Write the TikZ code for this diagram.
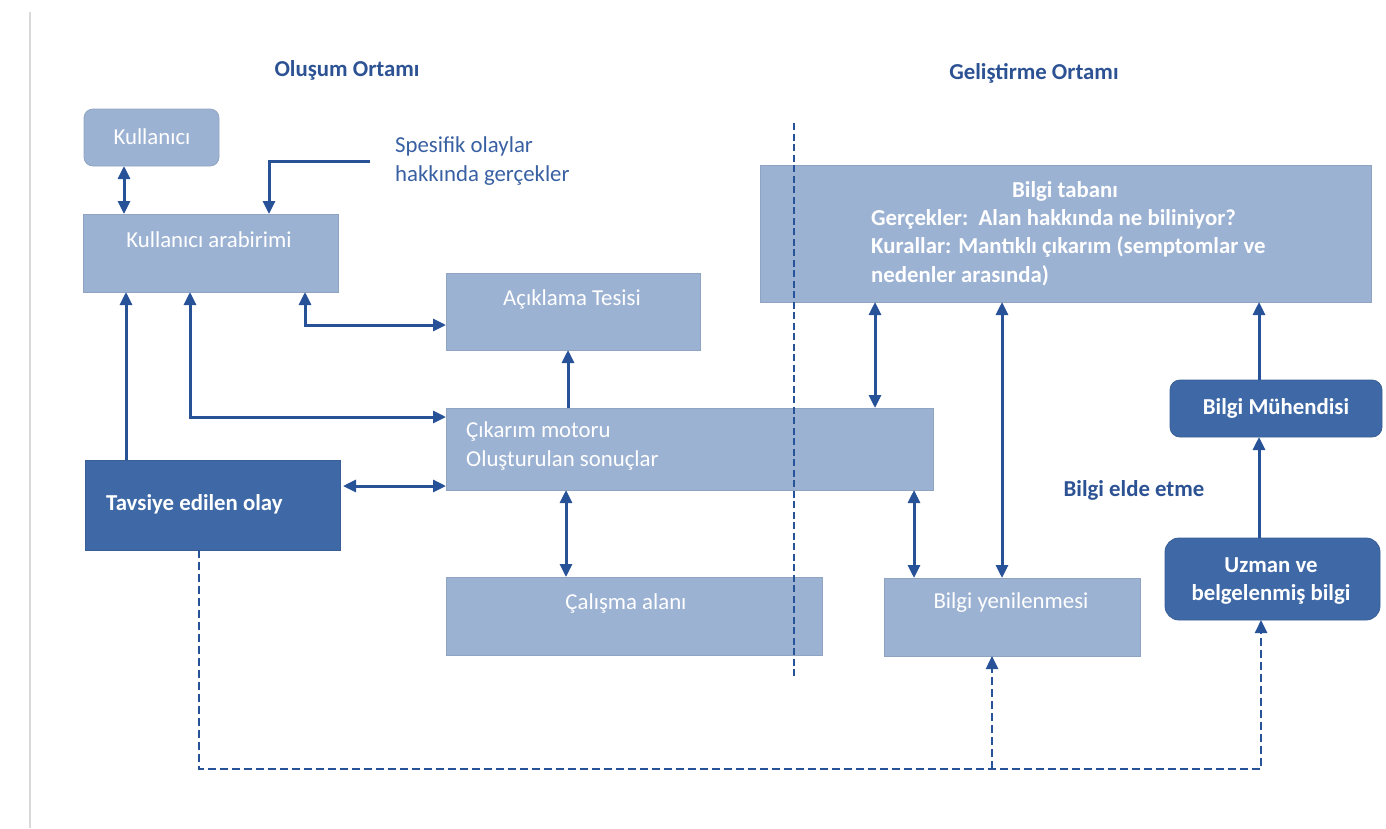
\documentclass[tikz,border=0pt]{standalone}
\usepackage{fontspec}
\setmainfont{Carlito}
\usetikzlibrary{arrows.meta}
\definecolor{boxlight}{RGB}{156,178,211}
\definecolor{boxdark}{RGB}{62,105,166}
\definecolor{arrowblue}{RGB}{40,82,152}
\definecolor{titleblue}{RGB}{44,82,148}
\definecolor{notecol}{RGB}{56,96,162}
\begin{document}
\begin{tikzpicture}[x=1pt,y=-1pt,
  font=\fontsize{22.8}{28.5}\selectfont,
  base/.style={anchor=north west,inner sep=0pt,outer sep=0pt},
  lbox/.style={base,fill=boxlight,draw=boxlight!92!black,line width=0.8pt},
  dbox/.style={base,fill=boxdark,draw=boxdark!90!black,line width=0.8pt},
  wtext/.style={text=white,inner sep=0pt},
  ttl/.style={text=titleblue,font=\fontsize{22.8}{28.5}\selectfont\bfseries,inner sep=0pt},
  conn/.style={draw=arrowblue,line width=3pt},
  tip/.style={conn,-{Triangle[length=13pt,width=12pt]}},
  both/.style={conn,{Triangle[length=13pt,width=12pt]}-{Triangle[length=13pt,width=12pt]}},
  dsh/.style={draw=arrowblue,line width=2.6pt,dash pattern=on 8pt off 4pt},
  dshtip/.style={dsh,-{Triangle[length=13pt,width=12pt]}}]

% page frame
\useasboundingbox (0,0) rectangle (1386,828);
\draw[black!15,line width=1.5pt] (30,12) -- (30,828);

% section titles
\node[ttl] (t1) at (347,70) {Oluşum Ortamı};
\node[ttl] (t2) at (1034,73) {Geliştirme Ortamı};

% boxes
\node[lbox,rounded corners=9pt,minimum width=135pt,minimum height=57pt] (kul) at (84,109) {};
\node[lbox,minimum width=255pt,minimum height=78pt] (arab) at (83,214) {};
\node[lbox,minimum width=254pt,minimum height=77pt] (acik) at (446,273) {};
\node[lbox,minimum width=487pt,minimum height=82pt] (cik) at (446,408) {};
\node[dbox,minimum width=255pt,minimum height=90pt] (tav) at (85,460) {};
\node[lbox,minimum width=376pt,minimum height=78pt] (cal) at (446,577) {};
\node[lbox,minimum width=611pt,minimum height=137pt] (bt) at (760,165) {};
\node[lbox,minimum width=256pt,minimum height=78pt] (yen) at (884,578) {};
\node[dbox,rounded corners=10pt,minimum width=212pt,minimum height=57pt] (muh) at (1170,380) {};
\node[dbox,rounded corners=14pt,minimum width=215pt,minimum height=82pt] (uzm) at (1165,538) {};

% box texts
\node[wtext] (tkul) at (152,137) {Kullanıcı};
\node[wtext] (tarab) at (209,240) {Kullanıcı arabirimi};
\node[wtext] (tacik) at (572,299) {Açıklama Tesisi};
\node[wtext,anchor=west,align=left] (tcik) at (466,446) {Çıkarım motoru\\Oluşturulan sonuçlar};
\node[wtext,anchor=west,font=\fontsize{22.8}{28.5}\selectfont\bfseries] (ttav) at (106,504) {Tavsiye edilen olay};
\node[wtext] (tcal) at (626,603) {Çalışma alanı};
\node[wtext,font=\fontsize{22.8}{28.5}\selectfont\bfseries] (tbt) at (1065,191) {Bilgi tabanı};
\node[wtext,anchor=north west,align=left,font=\fontsize{22.8}{28.5}\selectfont\bfseries] (tbt2) at (871,209)
  {Gerçekler:\ \ Alan hakkında ne biliniyor?\\Kurallar: Mantıklı çıkarım (semptomlar ve\\nedenler arasında)};
\node[wtext] (tyen) at (1011,603) {Bilgi yenilenmesi};
\node[wtext,font=\fontsize{22.8}{28.5}\selectfont\bfseries] (tmuh) at (1276,408) {Bilgi Mühendisi};
\node[wtext,align=center,font=\fontsize{22.8}{28.5}\selectfont\bfseries] (tuzm) at (1271,581) {Uzman ve\\belgelenmiş bilgi};

% free labels
\node[anchor=west,align=left,text=notecol,inner sep=0pt] (note) at (395,161) {Spesifik olaylar\\hakkında gerçekler};
\node[ttl] (elde) at (1134,490) {Bilgi elde etme};

% divider between the two environments
\draw[arrowblue,line width=2.4pt,dash pattern=on 7pt off 3.5pt] (794,123) -- (794,677);

% solid connectors
\draw[both] (kul.south -| 124,0) -- (arab.north -| 124,0);
\draw[tip] ([xshift=-25pt]note.west) -| (arab.north -| 269,0);
\draw[both] (arab.south -| 305,0) |- (acik.west |- 0,325);
\draw[tip] (cik.north -| 568,0) -- (acik.south -| 568,0);
\draw[both] (arab.south -| 190,0) |- (cik.west |- 0,417);
\draw[tip] (tav.north -| 126,0) -- (arab.south -| 126,0);
\draw[both] ([xshift=3pt]tav.east |- 0,486) -- (cik.west |- 0,486);
\draw[both] (cik.south -| 566,0) -- (cal.north -| 566,0);
\draw[both] (bt.south -| 875,0) -- (cik.north -| 875,0);
\draw[both] (bt.south -| 1002,0) -- (yen.north -| 1002,0);
\draw[both] (cik.south -| 914,0) -- (yen.north -| 914,0);
\draw[tip] (muh.north -| 1259,0) -- (bt.south -| 1259,0);
\draw[tip] (uzm.north -| 1259,0) -- (muh.south -| 1259,0);

% dashed feedback path
\coordinate (dj) at (992,769);
\draw[dshtip] (tav.south -| 199,0) |- (dj) -| (uzm.south -| 1261,0);
\draw[dshtip] (dj) -- (yen.south -| dj);
\end{tikzpicture}
\end{document}
